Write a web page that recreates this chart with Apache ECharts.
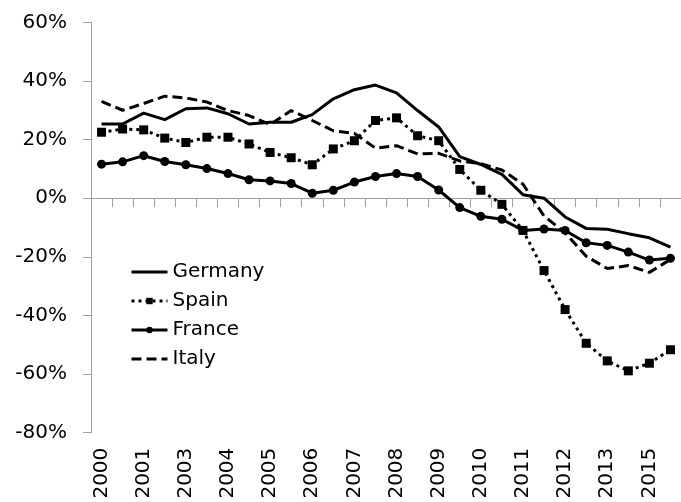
<!DOCTYPE html>
<html>
<head>
<meta charset="utf-8">
<script src="https://cdn.jsdelivr.net/npm/echarts@6/dist/echarts.min.js"></script>
<style>
  html, body { margin: 0; padding: 0; background: #fff; }
  #chart { width: 681px; height: 502px; }
</style>
</head>
<body>
<div id="chart"></div>
<script>
// year labels shown under every second half-year point
var yearLabels = ['2000', '2001', '2003', '2004', '2005', '2006', '2007',
                  '2008', '2009', '2010', '2011', '2012', '2013', '2015'];

var germany = [25.3, 25.3, 29.0, 26.8, 30.5, 30.8, 28.8, 25.3, 25.9, 25.9, 28.5, 33.9, 37.0, 38.6,
               35.9, 29.9, 24.3, 14.2, 11.5, 8.1, 1.2, 0.0, -6.4, -10.3, -10.6, -12.1, -13.5, -16.7];
var spain = [22.5, 23.6, 23.3, 20.5, 19.0, 20.8, 20.8, 18.5, 15.6, 13.8, 11.4, 16.8, 19.6, 26.5,
             27.4, 21.3, 19.6, 9.8, 2.7, -2.1, -11.0, -24.7, -38.0, -49.5, -55.5, -58.9, -56.3, -51.7];
var france = [11.6, 12.4, 14.5, 12.5, 11.4, 10.1, 8.4, 6.3, 5.9, 5.0, 1.7, 2.7, 5.5, 7.4,
              8.4, 7.4, 2.8, -3.2, -6.2, -7.2, -11.0, -10.5, -11.0, -15.2, -16.1, -18.4, -21.1, -20.5];
var italy = [33.0, 30.0, 32.3, 34.8, 34.2, 32.8, 29.9, 28.2, 25.1, 29.9, 26.5, 23.0, 22.1, 17.1,
             17.9, 15.1, 15.3, 12.7, 11.8, 9.6, 4.8, -6.1, -11.8, -19.8, -24.0, -23.0, -25.3, -20.9];

// two points per label
var categories = [];
yearLabels.forEach(function(y) {
    categories.push(y);
    categories.push(y + ' H2');
});

var font = 'DejaVu Sans';
var axisGray = '#a0a0a0';
var noMarker = { color: 'rgba(0,0,0,0)', borderWidth: 0 };

var chart = echarts.init(document.getElementById('chart'), null, { renderer: 'canvas' });

chart.setOption({
    animation: false,
    backgroundColor: '#fff',
    grid: { left: 91, right: -10.6, top: 22.3, bottom: 69.3 },
    legend: {
        orient: 'vertical',
        left: 125,
        top: 257,
        itemWidth: 36,
        itemHeight: 8,
        itemGap: 9,
        lineStyle: { width: 3 },
        textStyle: { fontFamily: font, fontSize: 20, color: '#000', lineHeight: 20 },
        data: [
            { name: 'Germany', itemStyle: noMarker },
            { name: 'Spain' },
            { name: 'France' },
            { name: 'Italy', itemStyle: noMarker }
        ]
    },
    xAxis: [{
        type: 'category',
        data: categories,
        boundaryGap: true,
        axisLine: { onZero: true, lineStyle: { color: axisGray, width: 1 } },
        axisTick: { show: true, interval: 0, length: 9, lineStyle: { color: axisGray } },
        axisLabel: { show: false },
        splitLine: { show: false }
    }, {
        type: 'category',
        data: categories,
        position: 'bottom',
        boundaryGap: true,
        axisLine: { show: false, onZero: false },
        axisTick: { show: false },
        axisLabel: {
            interval: 1,
            rotate: 90,
            margin: 15,
            fontFamily: font,
            fontSize: 20,
            color: '#000'
        }
    }],
    yAxis: {
        type: 'value',
        min: -80,
        max: 60,
        interval: 20,
        axisLine: { show: true, lineStyle: { color: axisGray } },
        axisTick: { show: true, length: 8, lineStyle: { color: axisGray } },
        splitLine: { show: false },
        axisLabel: {
            formatter: '{value}%',
            margin: 24,
            fontFamily: font,
            fontSize: 20,
            color: '#000'
        }
    },
    series: [{
        name: 'Germany',
        type: 'line',
        data: germany,
        symbol: 'none',
        lineStyle: { color: '#000', width: 3 },
        itemStyle: { color: '#000' }
    }, {
        name: 'Spain',
        type: 'line',
        data: spain,
        symbol: 'rect',
        symbolSize: 9,
        lineStyle: { color: '#000', width: 3, type: [3, 4] },
        itemStyle: { color: '#000' }
    }, {
        name: 'France',
        type: 'line',
        data: france,
        symbol: 'circle',
        symbolSize: 9,
        lineStyle: { color: '#000', width: 3 },
        itemStyle: { color: '#000' }
    }, {
        name: 'Italy',
        type: 'line',
        data: italy,
        symbol: 'none',
        lineStyle: { color: '#000', width: 3, type: [10, 5] },
        itemStyle: { color: '#000' }
    }]
});
</script>
</body>
</html>
